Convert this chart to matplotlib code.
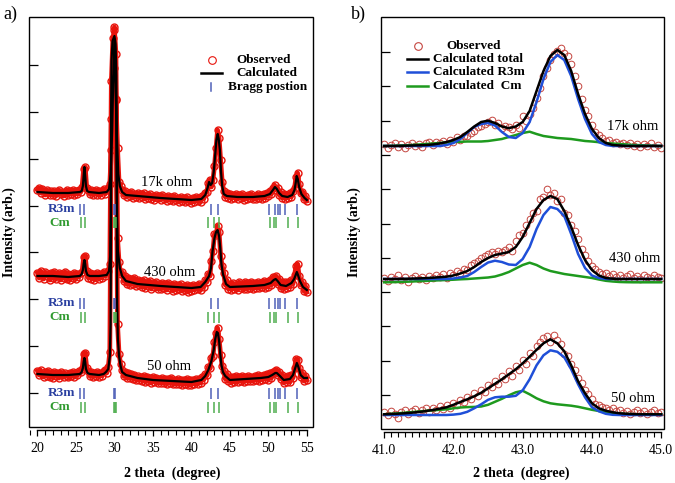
import numpy as np
import matplotlib
matplotlib.use("Agg")
import matplotlib.pyplot as plt
from matplotlib.patches import Rectangle
from matplotlib.lines import Line2D
from matplotlib.ticker import MultipleLocator, FixedLocator

plt.rcParams['font.family'] = ['Liberation Serif', 'DejaVu Serif']

samples = ["17k ohm", "430 ohm", "50 ohm"]

# ---------------- Panel a: full patterns (intensity relative to sample baseline) ----------------
calc_a_17k = [(20.0, 0), (21.0, -0.5), (22.0, -1), (24.0, -1), (25.5, 0), (25.75, 1), (25.9, 6), (26.0, 16),
              (26.1, 25), (26.2, 16), (26.3, 6), (26.45, 1), (26.7, 0), (28.0, -1), (29.0, 0), (29.3, 3),
              (29.5, 18), (29.7, 60), (29.85, 115), (30.0, 153), (30.15, 115), (30.3, 60), (30.5, 18),
              (30.7, 6), (31.0, 0), (31.5, -3), (33.0, -4), (36.0, -6), (40.0, -8), (41.3, -7), (41.8, -3),
              (42.1, 4), (42.3, 10), (42.5, 7), (42.7, 9), (42.9, 20), (43.1, 38), (43.25, 52), (43.42, 58),
              (43.55, 53), (43.7, 42), (43.85, 20), (44.0, 6), (44.2, -2), (44.6, -4), (46.0, -5), (48.0, -5),
              (49.5, -4), (50.2, -2), (50.6, 2), (50.85, 5), (51.1, 3), (51.4, -1), (51.8, -4), (52.5, -5),
              (53.1, -3), (53.4, 2), (53.55, 9), (53.68, 16), (53.82, 13), (54.0, 5), (54.3, -2), (54.7, -6),
              (55.0, -8)]
calc_a_430 = [(20.0, 0), (22.0, 0), (24.0, -1), (25.5, 0), (25.75, 2), (25.9, 6), (26.0, 12), (26.1, 16),
              (26.2, 12), (26.3, 5), (26.5, 1), (26.8, 0), (28.0, 0), (29.0, 1), (29.3, 5), (29.45, 20),
              (29.52, 60), (29.56, 150), (29.62, 215), (29.75, 235), (30.0, 240), (30.15, 232), (30.25, 200),
              (30.3, 130), (30.35, 60), (30.45, 25), (30.7, 8), (31.0, 0), (31.5, -5), (33.0, -8), (36.0, -10),
              (40.0, -12), (41.2, -11), (41.8, -6), (42.3, 0), (42.55, 8), (42.75, 25), (43.0, 38), (43.2, 44),
              (43.4, 46), (43.6, 40), (43.75, 28), (43.9, 12), (44.1, 2), (44.5, -8), (45.0, -11), (48.0, -10),
              (49.5, -9), (50.3, -7), (50.7, -4), (50.95, -3), (51.2, -5), (51.6, -9), (52.3, -10), (53.0, -7),
              (53.35, -3), (53.55, 1), (53.7, 4), (53.85, 1), (54.1, -5), (54.5, -11), (55.0, -14)]
calc_a_50 = [(20.0, 0), (22.0, -1), (24.0, -1), (25.5, 0), (25.75, 2), (25.9, 6), (26.0, 12), (26.1, 16),
             (26.2, 12), (26.3, 5), (26.5, 1), (26.8, 0), (28.0, -1), (28.6, 0), (28.9, 2), (29.2, 5),
             (29.4, 18), (29.5, 50), (29.55, 150), (29.6, 260), (29.75, 295), (30.0, 300), (30.15, 290),
             (30.25, 250), (30.3, 150), (30.35, 70), (30.45, 35), (30.6, 18), (30.8, 8), (31.0, 2), (31.5, -1),
             (33.0, -4), (35.0, -6), (40.0, -8), (41.3, -6), (41.8, -2), (42.2, 4), (42.6, 13), (42.9, 24),
             (43.1, 35), (43.3, 42), (43.45, 41), (43.6, 33), (43.75, 20), (43.9, 9), (44.1, 2), (44.4, -2),
             (45.0, -6), (47.0, -5), (49.0, -4), (50.0, -3), (50.5, -1), (50.9, 1), (51.1, 1), (51.5, -2),
             (52.0, -6), (52.8, -5), (53.2, -1), (53.45, 5), (53.7, 11), (53.9, 7), (54.2, -1), (54.6, -4),
             (55.0, -4)]

# observed, 2theta = 20.0 ... 55.0 in 0.2 deg steps
obs_a_17k = [2, 4, -1, 3, 1, -3, 2, 0, -3, 1,
             -3, 1, -4, 0, 2, -2, 0, -4, -1, 2,
             -3, 1, -2, 2, -3, 1, -2, 2, 0, 5,
             23, 25, 4, 2, -2, 2, -3, 0, 2, -3,
             1, -3, 1, 3, -2, 2, 4, 8, 42, 100,
             165, 92, 44, 10, 6, 2, -3, 1, -5, -1,
             -4, 0, -6, -2, -5, -1, -6, -2, -5, -1,
             -7, -3, -6, -2, -7, -4, -8, -3, -6, -4,
             -8, -3, -7, -5, -9, -4, -8, -5, -9, -4,
             -8, -6, -10, -5, -9, -6, -10, -5, -9, -7,
             -11, -6, -10, -5, -9, -6, -10, -4, -7, -1,
             0, 9, 12, 5, 12, 26, 44, 62, 54, 32,
             10, 1, -5, -1, -6, -2, -7, -3, -6, -2,
             -7, -3, -6, -2, -8, -4, -7, -3, -6, -2,
             -7, -4, -7, -2, -6, -3, -7, -2, -6, -1,
             -4, 1, -2, 4, 7, 2, 4, -3, 0, -6,
             -2, -7, -3, -6, -1, -5, 1, 4, 15, 19,
             8, -1, 0, -7, -4, -9]
obs_a_430 = [3, -2, 5, 1, -3, 4, 0, 2, -4, 3,
             -2, 4, -3, 1, 3, -4, 2, -2, 4, -3,
             2, -4, 1, -2, 3, -3, 2, -1, 3, 4,
             19, 20, 5, -2, 3, -3, 2, -4, 1, 3,
             -3, 2, -2, 4, 0, 3, 5, 12, 195, 238,
             246, 222, 38, 14, 2, 4, -5, 0, -8, -2,
             -9, -3, -8, -2, -10, -4, -9, -5, -11, -4,
             -12, -6, -10, -5, -13, -7, -11, -6, -13, -8,
             -13, -7, -12, -8, -14, -7, -12, -9, -15, -8,
             -14, -9, -13, -8, -15, -10, -14, -9, -16, -10,
             -15, -9, -14, -10, -13, -8, -14, -9, -11, -4,
             -6, 2, 0, 15, 25, 42, 41, 50, 44, 20,
             10, 3, -9, -4, -13, -8, -14, -7, -13, -9,
             -14, -6, -12, -8, -13, -6, -13, -7, -12, -6,
             -13, -7, -12, -6, -12, -7, -11, -5, -12, -6,
             -11, -4, -9, -1, -6, 0, -8, -3, -12, -6,
             -13, -6, -12, -6, -11, -4, -8, 1, 10, 12,
             0, -9, -6, -15, -10, -16]
obs_a_50 = [3, -1, 4, 0, -3, 2, -2, 3, -3, 1,
            -4, 2, -2, 1, -4, 2, 0, -3, 1, -2,
            -3, 1, -2, 2, -3, 1, -1, 3, 2, 5,
            20, 21, 6, 3, -2, 2, -3, 1, -2, 2,
            -3, 1, -2, 3, 4, 1, 7, 22, 255, 296,
            306, 275, 50, 20, 10, 4, -2, 2, -4, 1,
            -4, 0, -5, -1, -6, -2, -6, -3, -7, -2,
            -8, -3, -7, -4, -9, -3, -8, -4, -9, -5,
            -9, -4, -9, -5, -10, -5, -9, -4, -10, -6,
            -10, -5, -10, -6, -11, -6, -10, -5, -11, -6,
            -11, -6, -10, -5, -10, -5, -9, -3, -6, 0,
            -1, 7, 6, 16, 18, 32, 41, 46, 35, 19,
            8, 3, -5, 0, -7, -3, -9, -3, -8, -2,
            -8, -3, -7, -2, -8, -3, -7, -2, -7, -3,
            -7, -2, -6, -1, -7, -2, -6, -1, -5, 0,
            -6, 1, -4, 2, 3, 4, -1, 2, -5, -1,
            -9, -3, -8, -2, -8, -1, -4, 6, 15, 14,
            6, -3, 1, -7, -2, -6]

bragg_r3m = [25.5, 26.1, 30.0, 30.1, 42.5, 43.4, 50.1, 50.9, 51.2, 51.5, 52.2, 53.7]
bragg_cm = [25.7, 26.2, 29.95, 30.05, 30.15, 42.1, 43.0, 43.6, 50.2, 50.75, 51.0, 52.6, 53.9]

# ---------------- Panel b: zoom 41-45 deg, 0.1 deg steps for fits ----------------
tot_b_17k = [0, 0, 0, 0.3, 0.5, 0.7, 1, 1.5, 2.5, 4,
             6, 9, 14, 19.5, 24, 25.3, 23, 19.5, 17.8, 19.5,
             24, 35, 55, 75, 90, 96, 91, 75, 52, 32,
             17, 8, 3, 1, 0.5, 0, 0, 0, 0, 0, 0]
r3m_b_17k = [0, 0, 0, 0, 0, 0, 0, 0, 0, 1,
             3, 7, 13, 19, 22, 23, 20.5, 14, 9, 8,
             13, 24, 44, 67, 84, 91, 86, 70, 47, 27,
             12, 4, 1, 0, 0, 0, 0, 0, 0, 0, 0]
cm_b_17k = [0, 0.2, 0.5, 0.7, 1, 1.5, 2, 2.5, 3, 3.5,
            4, 4.2, 4.5, 4.5, 4.5, 5, 6, 7, 9, 11,
            13, 14.3, 12, 10, 9, 8, 7.5, 7, 6, 5,
            4.5, 3.8, 3, 2.5, 2, 1.5, 1, 0.8, 0.5, 0.2, 0]
tot_b_430 = [0, 0, 0, 0.2, 0.4, 0.6, 0.9, 1.3, 1.8, 2.3,
             3.5, 5.5, 8, 12, 17, 21, 24, 25.5, 27, 32,
             42, 56, 70, 79, 83, 80, 68, 52, 34, 19,
             9, 3.5, 1, 0.3, 0, 0, 0, 0, 0, 0, 0]
r3m_b_430 = [0, 0, 0, 0, 0, 0, 0, 0, 0, 0,
             0.5, 1.5, 3, 7, 12, 16.5, 18.3, 17, 14.5, 14,
             20, 32, 50, 64, 72, 70, 63, 45, 25, 11,
             3.5, 1, 0, 0, 0, 0, 0, 0, 0, 0, 0]
cm_b_430 = [-3.3, -3.2, -3, -2.8, -2.5, -2.2, -1.9, -1.6, -1.3, -1,
            -0.7, -0.3, 0, 0.5, 1, 1.5, 2.5, 4.5, 7, 10.5,
            14, 16.3, 14, 10.5, 8, 6.5, 5, 4, 3, 2,
            1, -0.5, -1.8, -2.5, -3, -3.2, -3.3, -3.3, -3.3, -3.3, -3.3]
tot_b_50 = [0, 0.3, 0.6, 1, 1.6, 2.3, 3.2, 4.3, 5.6, 7,
            9.5, 12.3, 15, 18, 21.5, 26, 30.5, 35, 40, 45,
            51, 57.6, 64.5, 71, 75, 71, 63, 49, 33, 21,
            11, 6, 3.6, 2, 1, 0.5, 0.2, 0, 0, 0, 0]
r3m_b_50 = [-0.7, -0.7, -0.7, -0.7, -0.7, -0.7, -0.7, -0.7, -0.7, -0.7,
            -0.3, 0.5, 2.5, 6, 10, 14.5, 17, 17.6, 17.6, 18.5,
            24, 35, 49, 59, 64, 62.5, 57, 45, 30, 17,
            7, 3, 0.5, -0.5, -0.7, -0.7, -0.7, -0.7, -0.7, -0.7, -0.7]
cm_b_50 = [0, 0.5, 1, 1.6, 2.2, 2.8, 3.4, 4, 4.5, 5,
           6, 6.8, 7.2, 7.4, 7.8, 9.5, 12.5, 15.5, 19, 22,
           23.5, 20, 16, 13, 11, 10, 9.3, 8.6, 7.5, 6,
           4.5, 3.3, 2.2, 1.2, 0.6, 0.3, 0.1, 0, 0, 0, 0]

# observed, 41.00 ... 45.00 in 0.05 deg steps
obs_b_17k = [2, -2, 1, 3, -1, 2, -2, 1, 3, 0, 2, -1, 3, 4, 1, 4, 3, 5, 2, 6,
             4, 9, 6, 10, 10, 13, 15, 19, 20, 22, 24, 26, 21, 23, 18, 20, 19, 17, 21, 18,
             30, 25, 32, 38, 48, 58, 70, 78, 86, 92, 95, 98, 93, 90, 82, 70, 60, 47, 36, 30,
             21, 14, 11, 8, 5, 6, 3, 4, 2, 3, 1, 3, 0, 2, -1, 2, 0, 3, -1, 1,
             -2]
obs_b_430 = [1, -2, 2, 0, 4, -1, 2, -3, 1, 3, 0, 2, -1, 3, 1, 4, 2, 5, 1, 6,
             4, 8, 6, 10, 9, 14, 16, 18, 21, 23, 25, 27, 25, 28, 27, 29, 32, 28, 38, 44,
             46, 54, 60, 66, 68, 80, 82, 90, 84, 86, 78, 80, 66, 64, 54, 48, 40, 30, 24, 18,
             13, 10, 7, 5, 6, 3, 5, 2, 4, 1, 3, 5, 1, 3, 0, 4, 2, 1, 4, 2,
             1]
obs_b_50 = [2, -1, 3, 0, -4, 2, 4, 0, 3, 5, 1, 4, 6, 2, 6, 4, 8, 5, 9, 6,
            11, 9, 14, 12, 17, 15, 21, 18, 24, 22, 29, 27, 33, 30, 38, 35, 43, 38, 48, 44,
            54, 50, 61, 58, 68, 72, 76, 78, 72, 79, 74, 70, 60, 58, 50, 44, 36, 31, 24, 20,
            15, 10, 9, 7, 6, 4, 6, 3, 4, 1, 3, 0, 2, 4, 1, 3, 0, 2, 4, 1,
            2]

# ---------------- layout constants ----------------
offsets_a = [235, 151, 53]
offsets_b = [283, 150, 14.7]
r3m_band_a = [(212, 223), (118, 129), (28, 39)]
cm_band_a = [(199, 210), (104, 115), (14, 25)]
label_pos_a = [(36.8, 245), (37.2, 154), (37.1, 60)]
label_pos_b = [(44.59, 303), (44.62, 170), (44.59, 31)]

OBS_A = '#e8140c'
OBS_B = '#c4453f'
BLUE_LINE = '#1f4fd8'
GREEN_LINE = '#1e9a1e'
BRAGG_BLUE = '#5060b8'
BRAGG_GREEN = '#4fae4f'

fig = plt.figure(figsize=(6.75, 4.83), dpi=100)
W, H = 675.0, 483.0
ax_a = fig.add_axes([29 / W, 1 - 427 / H, 284 / W, 410 / H])
ax_b = fig.add_axes([380.7 / W, 1 - 429 / H, 283.3 / W, 412 / H])


def style(ax, lo, hi, major, minor, yt):
    for s in ['top', 'right', 'left']:
        ax.spines[s].set_visible(False)
    ax.spines['bottom'].set_position(('outward', 2.5))
    ax.spines['bottom'].set_bounds(lo, hi)
    ax.spines['bottom'].set_linewidth(1.0)
    ax.add_patch(Rectangle((0, 0), 1, 1, transform=ax.transAxes, fill=False,
                           lw=1.0, ec='black', clip_on=False, zorder=6))
    ax.xaxis.set_major_locator(MultipleLocator(major))
    ax.xaxis.set_minor_locator(MultipleLocator(minor))
    ax.tick_params(axis='x', which='major', direction='out', length=4.2, width=0.9,
                   labelsize=10, pad=4)
    ax.tick_params(axis='x', which='minor', direction='out', length=3.3, width=0.8)
    ax.yaxis.set_major_locator(FixedLocator(yt))
    ax.tick_params(axis='y', which='major', direction='in', length=6.5, width=0.9,
                   labelleft=False)
    ax.tick_params(axis='y', which='minor', left=False)


# ---------- panel a ----------
calcs_a = [calc_a_17k, calc_a_430, calc_a_50]
obss_a = [obs_a_17k, obs_a_430, obs_a_50]
for i in range(3):
    off = offsets_a[i]
    obs = np.array(obss_a[i], dtype=float)
    xo = 20.0 + 0.2 * np.arange(len(obs))
    # dense observed points: joined band plus circle outlines
    ax_a.plot(xo, obs + off, color=OBS_A, lw=3.4, zorder=2, solid_joinstyle='round')
    ax_a.plot(xo, obs + off, linestyle='none', marker='o', ms=5.0, mfc='none',
              mec=OBS_A, mew=1.0, zorder=2)
    cx, cy = np.array(calcs_a[i], dtype=float).T
    ax_a.plot(cx, cy + off, color='black', lw=1.6, zorder=3)
    ax_a.text(label_pos_a[i][0], label_pos_a[i][1], samples[i], ha='center', va='center',
              fontsize=10.5, zorder=7)
    r0, r1 = r3m_band_a[i]
    c0, c1 = cm_band_a[i]
    ax_a.vlines(bragg_r3m, r0, r1, colors=BRAGG_BLUE, lw=1.1, zorder=4)
    ax_a.vlines(bragg_cm, c0, c1, colors=BRAGG_GREEN, lw=1.1, zorder=4)
    ax_a.text(24.85, (r0 + r1) / 2, 'R3m', ha='right', va='center', fontsize=9.5,
              fontweight='bold', color='#2a3fa0', zorder=7)
    ax_a.text(24.2, (c0 + c1) / 2, 'Cm', ha='right', va='center', fontsize=9.5,
              fontweight='bold', color='#2f9a2f', zorder=7)

ax_a.set_xlim(18.9, 55.8)
ax_a.set_ylim(0, 410)
style(ax_a, 20, 55, 5, 1, [34 + 46.86 * k for k in range(8)])
ax_a.set_xticks([20, 25, 30, 35, 40, 45, 50, 55])

# legend a (axes fraction)
ta = ax_a.transAxes
ax_a.add_line(Line2D([0.643], [0.895], transform=ta, marker='o', ms=5.5, mfc='none',
                     mec=OBS_A, mew=0.8, ls='none'))
ax_a.add_line(Line2D([0.606, 0.681], [0.864, 0.864], transform=ta, color='black', lw=1.8))
ax_a.add_line(Line2D([0.641, 0.641], [0.820, 0.839], transform=ta, color=BRAGG_BLUE, lw=1.1))
ax_a.text(0.731, 0.895, 'Observed', transform=ta, ha='left', va='center', fontsize=9.5, fontweight='bold')
ax_a.text(0.731, 0.864, 'Calculated', transform=ta, ha='left', va='center', fontsize=9.5, fontweight='bold')
ax_a.text(0.700, 0.8285, 'Bragg postion', transform=ta, ha='left', va='center', fontsize=9.5, fontweight='bold')

# ---------- panel b ----------
xb = np.linspace(41.0, 45.0, 41)
tots = [tot_b_17k, tot_b_430, tot_b_50]
r3ms = [r3m_b_17k, r3m_b_430, r3m_b_50]
cms = [cm_b_17k, cm_b_430, cm_b_50]
obss_b = [obs_b_17k, obs_b_430, obs_b_50]
for i in range(3):
    off = offsets_b[i]
    obs = np.array(obss_b[i], dtype=float)
    xo = 41.0 + 0.05 * np.arange(len(obs))
    ax_b.plot(xo, obs + off, linestyle='none', marker='o', ms=4.8, mfc='none',
              mec=OBS_B, mew=0.7, zorder=2)
    ax_b.plot(xb, np.array(cms[i]) + off, color=GREEN_LINE, lw=1.8, zorder=3)
    ax_b.plot(xb, np.array(r3ms[i]) + off, color=BLUE_LINE, lw=1.8, zorder=4)
    ax_b.plot(xb, np.array(tots[i]) + off, color='black', lw=1.8, zorder=5)
    ax_b.text(label_pos_b[i][0], label_pos_b[i][1], samples[i], ha='center', va='center',
              fontsize=10.5, zorder=7)

ax_b.set_xlim(40.95, 45.04)
ax_b.set_ylim(0, 412)
style(ax_b, 41, 45, 1, 0.1, [34 + 34.3 * k for k in range(11)])
ax_b.set_xticks([41, 42, 43, 44, 45])
ax_b.set_xticklabels(['41.0', '42.0', '43.0', '44.0', '45.0'])

tb = ax_b.transAxes
ax_b.add_line(Line2D([0.1303], [0.9296], transform=tb, marker='o', ms=5.5, mfc='none',
                     mec=OBS_B, mew=0.8, ls='none'))
for yy, col in [(0.8973, 'black'), (0.8658, BLUE_LINE), (0.8325, GREEN_LINE)]:
    ax_b.add_line(Line2D([0.0918, 0.168], [yy, yy], transform=tb, color=col, lw=1.8))
ax_b.text(0.231, 0.9296, 'Observed', transform=tb, ha='left', va='center', fontsize=9.5, fontweight='bold')
ax_b.text(0.1855, 0.8973, 'Calculated total', transform=tb, ha='left', va='center', fontsize=9.5, fontweight='bold')
ax_b.text(0.1855, 0.8658, 'Calculated R3m', transform=tb, ha='left', va='center', fontsize=9.5, fontweight='bold')
ax_b.text(0.1855, 0.8325, 'Calculated  Cm', transform=tb, ha='left', va='center', fontsize=9.5, fontweight='bold')

# axis titles and panel letters
fig.text(172.5 / W, 1 - 473 / H, '2 theta  (degree)', ha='center', va='center', fontsize=10, fontweight='bold')
fig.text(521 / W, 1 - 473 / H, '2 theta  (degree)', ha='center', va='center', fontsize=10, fontweight='bold')
fig.text(9.5 / W, 1 - 232 / H, 'Intensity (arb.)', rotation=90, ha='center', va='center', fontsize=10, fontweight='bold')
fig.text(354 / W, 1 - 232 / H, 'Intensity (arb.)', rotation=90, ha='center', va='center', fontsize=10, fontweight='bold')
fig.text(10.5 / W, 1 - 14.5 / H, 'a)', ha='center', va='center', fontsize=13)
fig.text(358.5 / W, 1 - 14.5 / H, 'b)', ha='center', va='center', fontsize=13)

fig.savefig('out.png', dpi=100)
